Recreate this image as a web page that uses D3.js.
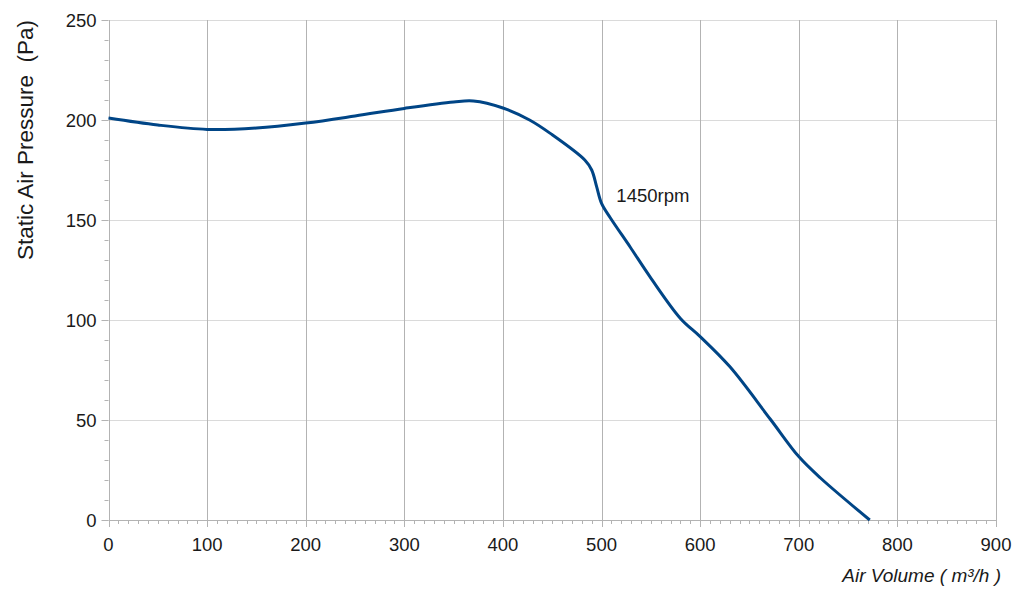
<!DOCTYPE html>
<html>
<head>
<meta charset="utf-8">
<script src="https://cdn.jsdelivr.net/npm/d3@7"></script>
<style>
  body { margin: 0; background: #fff; }
  svg text { font-family: "Liberation Sans", Arial, sans-serif; fill: #1a1a1a; }
</style>
</head>
<body>
<div id="chart"></div>
<script>
// fan curve
const airVolume = [0, 50, 100, 150, 200, 250, 300, 350, 370, 400, 427, 448, 483, 490, 495, 500, 509, 529, 549, 580, 600, 630, 671, 700, 722, 772];
const pressure  = [201, 197.5, 195.3, 196, 198.5, 202, 205.8, 209, 209.5, 206, 200, 193.3, 180, 175, 166.7, 158.3, 151, 136.5, 121.7, 100.8, 91.7, 76.7, 50.5, 31.7, 21, 0];
const xTicks = [0, 100, 200, 300, 400, 500, 600, 700, 800, 900];
const yTicks = [0, 50, 100, 150, 200, 250];
const curveLabel = "1450rpm";
const xTitle = "Air Volume ( m³/h )";
const yTitle = "Static Air Pressure  (Pa)";

const width = 1024, height = 598;
const margin = {top: 20, right: 28, bottom: 78, left: 108.5};

const svg = d3.select("#chart").append("svg")
  .attr("width", width)
  .attr("height", height);

const x = d3.scaleLinear().domain([0, 900]).range([margin.left, width - margin.right]);
const y = d3.scaleLinear().domain([0, 250]).range([height - margin.bottom, margin.top]);

const crisp = (v) => Math.round(v) + 0.5;

// horizontal grid (lighter)
svg.append("g")
  .selectAll("line")
  .data(yTicks.filter(d => d > 0))
  .enter().append("line")
  .attr("x1", x(0))
  .attr("x2", x(900))
  .attr("y1", d => crisp(y(d)))
  .attr("y2", d => crisp(y(d)))
  .attr("stroke", "#dadada");

// minor ticks, x every 10, y every 10
svg.append("g")
  .selectAll("line")
  .data(d3.range(0, 901, 10).filter(d => d % 100 !== 0))
  .enter().append("line")
  .attr("x1", d => crisp(x(d)))
  .attr("x2", d => crisp(x(d)))
  .attr("y1", y(0))
  .attr("y2", y(0) + 4)
  .attr("stroke", "#b3b3b3");

svg.append("g")
  .selectAll("line")
  .data(d3.range(0, 251, 10).filter(d => d % 50 !== 0))
  .enter().append("line")
  .attr("x1", x(0) - 4)
  .attr("x2", x(0))
  .attr("y1", d => crisp(y(d)))
  .attr("y2", d => crisp(y(d)))
  .attr("stroke", "#b3b3b3");

// vertical grid (darker), runs past the axis as the major tick
svg.append("g")
  .selectAll("line")
  .data(xTicks)
  .enter().append("line")
  .attr("x1", d => crisp(x(d)))
  .attr("x2", d => crisp(x(d)))
  .attr("y1", y(250))
  .attr("y2", y(0) + 7)
  .attr("stroke", "#b3b3b3");

// x axis line and y major ticks
svg.append("line")
  .attr("x1", x(0))
  .attr("x2", x(900))
  .attr("y1", crisp(y(0)))
  .attr("y2", crisp(y(0)))
  .attr("stroke", "#b3b3b3");

svg.append("g")
  .selectAll("line")
  .data(yTicks)
  .enter().append("line")
  .attr("x1", x(0) - 7)
  .attr("x2", x(0))
  .attr("y1", d => crisp(y(d)))
  .attr("y2", d => crisp(y(d)))
  .attr("stroke", "#b3b3b3");

// tick labels
svg.append("g")
  .selectAll("text")
  .data(xTicks)
  .enter().append("text")
  .attr("x", d => x(d))
  .attr("y", y(0) + 31)
  .attr("text-anchor", "middle")
  .style("font-size", "18.5px")
  .text(d => d);

svg.append("g")
  .selectAll("text")
  .data(yTicks)
  .enter().append("text")
  .attr("x", x(0) - 12)
  .attr("y", d => y(d) + 6.5)
  .attr("text-anchor", "end")
  .style("font-size", "18.5px")
  .text(d => d);

// the curve
const points = airVolume.map((v, i) => ({x: v, y: pressure[i]}));
const line = d3.line()
  .x(d => x(d.x))
  .y(d => y(d.y))
  .curve(d3.curveCatmullRom.alpha(0.5));

svg.append("path")
  .datum(points)
  .attr("d", line)
  .attr("fill", "none")
  .attr("stroke", "#004586")
  .attr("stroke-width", 3)
  .attr("stroke-linejoin", "round");

svg.append("text")
  .attr("x", x(515))
  .attr("y", y(159))
  .style("font-size", "18.5px")
  .text(curveLabel);

// axis titles
svg.append("text")
  .attr("x", 1001)
  .attr("y", 582)
  .attr("text-anchor", "end")
  .style("font-size", "19px")
  .style("font-style", "italic")
  .text(xTitle);

svg.append("text")
  .attr("transform", "translate(33,140) rotate(-90)")
  .attr("text-anchor", "middle")
  .style("font-size", "22.5px")
  .style("white-space", "pre")
  .text(yTitle);
</script>
</body>
</html>
